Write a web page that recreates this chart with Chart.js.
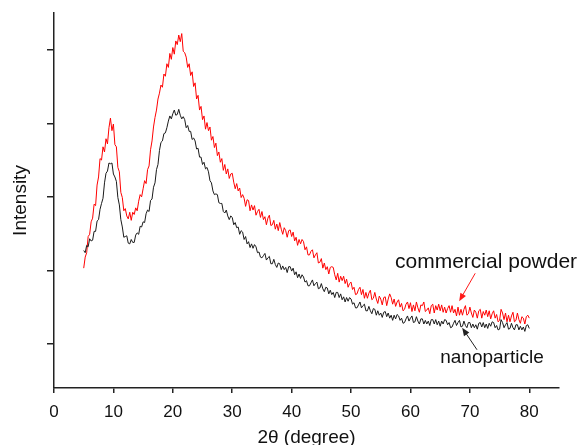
<!DOCTYPE html>
<html>
<head>
<meta charset="utf-8">
<script src="https://cdn.jsdelivr.net/npm/chart.js@4.4.1/dist/chart.umd.min.js"></script>
<style>
  html, body { margin: 0; padding: 0; background: #fff; }
  #wrap { width: 579px; height: 445px; }
</style>
</head>
<body>
<div id="wrap"><canvas id="xrd" width="579" height="445"></canvas></div>
<script>
// scan grid: 5 to 80 degrees, 0.25 degree step
const scanStart = 5;
const scanStep = 0.25;

// commercial powder (red), one row per degree
const commercialPowder = [
  203, 218, 224, 246,
  249, 266, 271, 290,
  288, 316, 327, 352,
  350, 368, 361, 379,
  372, 394, 407, 390,
  399, 371, 368, 340,
  334, 306, 299, 281,
  284, 274, 270, 279,
  268, 279, 276, 285,
  281, 294, 303, 300,
  311, 322, 318, 337,
  342, 364, 376, 395,
  408, 418, 433, 441,
  452, 449, 467, 464,
  481, 476, 495, 487,
  503, 494, 512, 507,
  520, 511, 522, 498,
  496, 490, 476, 481,
  465, 470, 450, 455,
  433, 438, 418, 423,
  405, 410, 392, 401,
  390, 395, 377, 382,
  367, 373, 356, 361,
  347, 352, 336, 344,
  331, 338, 325, 331,
  332, 320, 311, 318,
  308, 312, 299, 303,
  298, 287, 296, 295,
  281, 289, 282, 288,
  275, 280, 283, 272,
  280, 269, 273, 262,
  271, 275, 261, 262,
  268, 256, 263, 254,
  265, 256, 249, 258,
  254, 245, 254, 255,
  246, 252, 240, 245,
  234, 242, 236, 242,
  239, 228, 232, 221,
  221, 226, 228, 217,
  221, 224, 210, 211,
  216, 203, 210, 201,
  205, 195, 204, 205,
  204, 194, 187, 196,
  184, 192, 186, 192,
  182, 188, 177, 182,
  184, 174, 177, 167,
  168, 174, 177, 167,
  174, 162, 170, 162,
  169, 173, 160, 162,
  170, 161, 155, 165,
  161, 153, 163, 164,
  152, 161, 168, 163,
  154, 161, 151, 157,
  160, 150, 155, 145,
  147, 154, 157, 148,
  156, 144, 153, 145,
  157, 149, 143, 153,
  152, 157, 144, 146,
  149, 141, 152, 154,
  142, 152, 146, 154,
  145, 153, 143, 150,
  142, 148, 152, 143,
  152, 142, 147, 138,
  150, 139, 147, 139,
  147, 152, 139, 141,
  150, 142, 136, 146,
  143, 135, 145, 147,
  135, 144, 139, 146,
  137, 145, 134, 141,
  145, 135, 140, 130,
  132, 147, 142, 133,
  142, 130, 139, 130,
  138, 143, 130, 132,
  142, 133, 128, 137,
  135, 127, 137, 139,
  135
];

// nanoparticle (black), one row per degree
const nanoparticle = [
  227, 224, 234, 232,
  243, 240, 241, 253,
  253, 267, 269, 283,
  291, 298, 319, 332,
  335, 346, 345, 346,
  331, 327, 321, 299,
  289, 269, 259, 245,
  246, 247, 237, 236,
  242, 238, 238, 248,
  251, 249, 260, 259,
  266, 265, 277, 282,
  280, 295, 297, 313,
  319, 337, 344, 363,
  374, 376, 386, 387,
  394, 403, 410, 406,
  413, 418, 411, 412,
  419, 411, 406, 409,
  405, 394, 397, 389,
  389, 378, 380, 376,
  365, 366, 354, 354,
  344, 347, 338, 340,
  334, 322, 319, 308,
  303, 304, 303, 292,
  291, 291, 280, 278,
  282, 274, 269, 274,
  272, 262, 265, 258,
  259, 249, 254, 252,
  242, 246, 236, 239,
  231, 236, 230, 235,
  232, 224, 225, 218,
  217, 220, 223, 214,
  217, 219, 209, 209,
  215, 208, 204, 210,
  209, 201, 206, 201,
  204, 197, 205, 205,
  199, 203, 194, 198,
  190, 195, 189, 194,
  191, 184, 186, 179,
  179, 183, 187, 179,
  182, 184, 175, 176,
  182, 175, 171, 177,
  176, 168, 173, 167,
  170, 163, 170, 170,
  163, 168, 160, 164,
  157, 163, 158, 163,
  161, 154, 156, 149,
  149, 153, 157, 149,
  152, 154, 145, 145,
  151, 145, 141, 148,
  147, 139, 145, 139,
  142, 136, 143, 144,
  137, 142, 135, 139,
  132, 139, 134, 140,
  138, 132, 135, 128,
  129, 134, 138, 131,
  135, 138, 129, 130,
  137, 131, 127, 134,
  134, 127, 132, 127,
  131, 125, 133, 133,
  127, 133, 126, 131,
  124, 131, 127, 133,
  132, 126, 129, 122,
  123, 128, 132, 125,
  129, 132, 123, 124,
  131, 125, 122, 129,
  129, 122, 127, 122,
  126, 120, 128, 129,
  123, 129, 122, 127,
  121, 128, 124, 130,
  129, 122, 125, 119,
  120, 133, 129, 122,
  126, 129, 120, 121,
  128, 122, 119, 126,
  126, 119, 124, 119,
  123, 117, 125, 126,
  121
];

const xTicks = [0, 10, 20, 30, 40, 50, 60, 70, 80];
const yTicks = [100, 200, 300, 400, 500];
const seriesNames = ['commercial powder', 'nanoparticle'];

function toPoints(vals) {
  return vals.map((v, i) => ({ x: scanStart + i * scanStep, y: v }));
}

function arrow(ctx, x0, y0, x1, y1, color) {
  const ang = Math.atan2(y1 - y0, x1 - x0);
  const head = 8, half = 3.2;
  ctx.save();
  ctx.strokeStyle = color;
  ctx.fillStyle = color;
  ctx.lineWidth = 1;
  ctx.beginPath();
  ctx.moveTo(x0, y0);
  ctx.lineTo(x1 - Math.cos(ang) * head * 0.8, y1 - Math.sin(ang) * head * 0.8);
  ctx.stroke();
  ctx.beginPath();
  ctx.moveTo(x1, y1);
  ctx.lineTo(x1 - Math.cos(ang) * head - Math.sin(ang) * half, y1 - Math.sin(ang) * head + Math.cos(ang) * half);
  ctx.lineTo(x1 - Math.cos(ang) * head + Math.sin(ang) * half, y1 - Math.sin(ang) * head - Math.cos(ang) * half);
  ctx.closePath();
  ctx.fill();
  ctx.restore();
}

// labels + arrows placed in data coordinates
const annotate = {
  id: 'annotate',
  afterDatasetsDraw(chart) {
    const { ctx, scales: { x, y } } = chart;
    ctx.save();
    ctx.fillStyle = '#111';
    ctx.textAlign = 'left';
    ctx.textBaseline = 'middle';
    ctx.font = '21px "Liberation Sans", Arial, sans-serif';
    ctx.fillText(seriesNames[0], x.getPixelForValue(57.4), y.getPixelForValue(211));
    ctx.font = '19px "Liberation Sans", Arial, sans-serif';
    ctx.fillText(seriesNames[1], x.getPixelForValue(65), y.getPixelForValue(81));
    ctx.restore();
    arrow(ctx, x.getPixelForValue(70.9), y.getPixelForValue(196), x.getPixelForValue(68.2), y.getPixelForValue(158), '#ff1a1a');
    arrow(ctx, x.getPixelForValue(71.2), y.getPixelForValue(92), x.getPixelForValue(68.7), y.getPixelForValue(122), '#222');
  }
};

new Chart(document.getElementById('xrd'), {
  type: 'line',
  data: {
    datasets: [
      { label: seriesNames[1], data: toPoints(nanoparticle), borderColor: '#1a1a1a', borderWidth: 1, pointRadius: 0, tension: 0 },
      { label: seriesNames[0], data: toPoints(commercialPowder), borderColor: '#ff0000', borderWidth: 1, pointRadius: 0, tension: 0 }
    ]
  },
  options: {
    responsive: false,
    animation: false,
    events: [],
    layout: { padding: { left: 5, top: 13, right: 20, bottom: 0 } },
    plugins: { legend: { display: false }, tooltip: { enabled: false } },
    scales: {
      x: {
        type: 'linear',
        min: 0,
        max: 85,
        afterBuildTicks: (s) => { s.ticks = xTicks.map(v => ({ value: v })); },
        grid: { drawOnChartArea: false, tickLength: 5, color: '#222', lineWidth: 1.5 },
        border: { color: '#222', width: 1.5 },
        ticks: { color: '#111', padding: 9, maxRotation: 0, font: { family: '"Liberation Sans", Arial, sans-serif', size: 17 } },
        title: {
          display: true, text: '2θ (degree)', color: '#111',
          padding: { top: -1.6, bottom: 0 },
          font: { family: '"Liberation Sans", Arial, sans-serif', size: 19, lineHeight: 0.8 }
        }
      },
      y: {
        type: 'linear',
        min: 40,
        max: 550,
        afterBuildTicks: (s) => { s.ticks = yTicks.map(v => ({ value: v })); },
        grid: { drawOnChartArea: false, tickLength: 7, color: '#222', lineWidth: 1.5 },
        border: { color: '#222', width: 1.5 },
        ticks: { display: false },
        title: {
          display: true, text: 'Intensity', color: '#111',
          padding: { top: 4.6, bottom: 14.6 },
          font: { family: '"Liberation Sans", Arial, sans-serif', size: 19, lineHeight: 1.2 }
        }
      }
    }
  },
  plugins: [annotate]
});
</script>
</body>
</html>
